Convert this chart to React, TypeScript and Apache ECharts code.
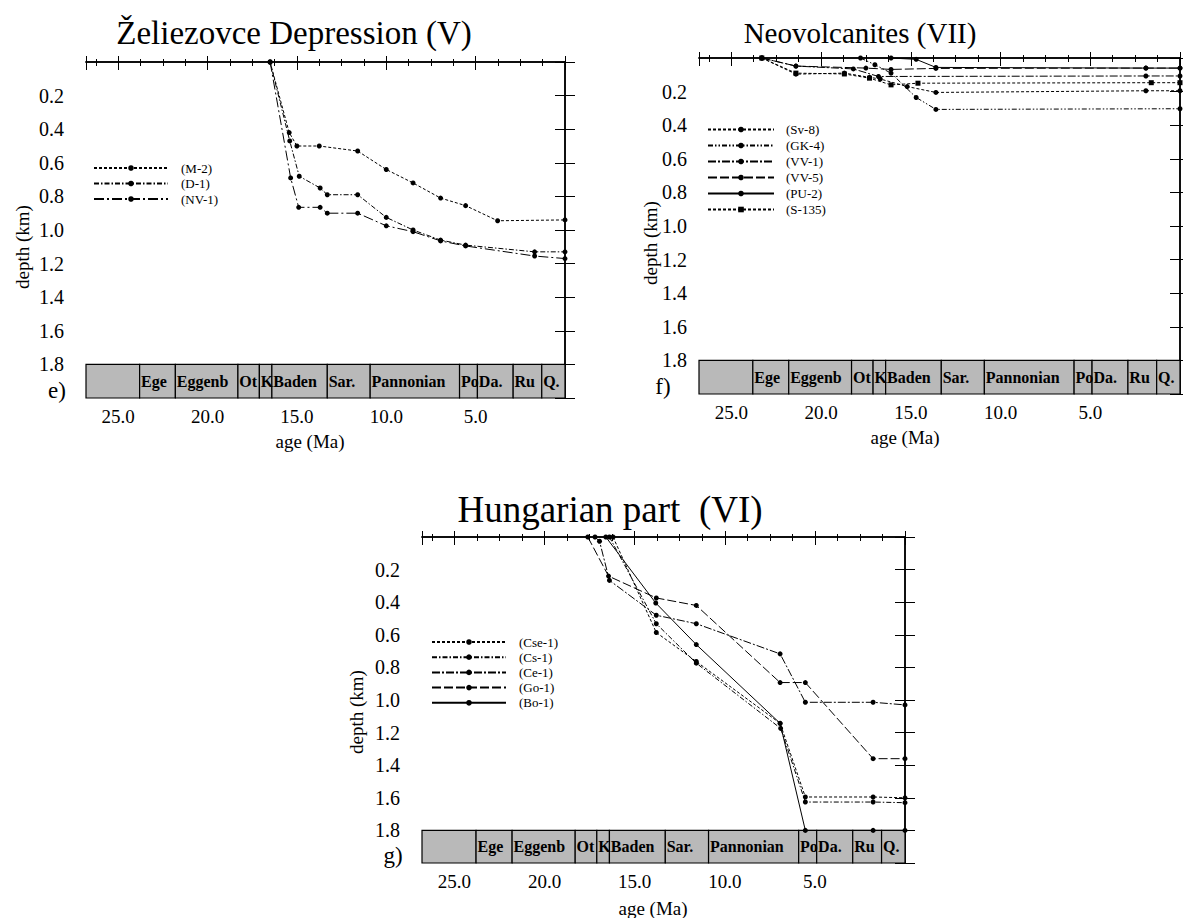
import React, { useEffect, useRef } from "react";
import * as echarts from "echarts";

const FONT = "'Liberation Serif', 'Times New Roman', serif";

// ---- stratigraphic strip (ages in Ma) ----
const stageNames = ["", "Ege", "Eggenb", "Ot", "K", "Baden", "Sar.", "Pannonian", "Po", "Da.", "Ru", "Q."];
const stageStart = [26.8, 23.8, 21.8, 18.3, 17.1, 16.4, 13.3, 10.9, 5.9, 4.9, 2.9, 1.3];
const stageEnd = [23.8, 21.8, 18.3, 17.1, 16.4, 13.3, 10.9, 5.9, 4.9, 2.9, 1.3, 0];

const AGE_MAX = 26.8;
const DEPTH_MAX = 2.0;
const STRIP_TOP = 1.8;

// ---- e) Zeliezovce Depression (V) ----
const namesE = ["(M-2)", "(D-1)", "(NV-1)"];
const ageM2 = [16.5, 15.43, 15.0, 13.75, 11.6, 10.0, 8.5, 6.96, 5.56, 3.77, 0];
const depthM2 = [0, 0.42, 0.5, 0.5, 0.53, 0.64, 0.72, 0.81, 0.855, 0.945, 0.94];
const ageD1 = [16.5, 15.4, 14.87, 13.7, 13.3, 11.6, 10.0, 8.5, 6.96, 5.56, 1.7, 0];
const depthD1 = [0, 0.47, 0.68, 0.75, 0.79, 0.79, 0.925, 1.0, 1.06, 1.09, 1.13, 1.13];
const ageNV1 = [16.5, 15.35, 14.9, 13.7, 13.3, 11.6, 10.0, 8.5, 6.96, 5.56, 1.7, 0];
const depthNV1 = [0, 0.69, 0.865, 0.865, 0.9, 0.9, 0.975, 1.01, 1.065, 1.095, 1.155, 1.17];

// ---- f) Neovolcanites (VII) ----
const namesF = ["(Sv-8)", "(GK-4)", "(VV-1)", "(VV-5)", "(PU-2)", "(S-135)"];
const ageSv8 = [23.3, 21.4, 18.7, 17.3, 16.7, 15.2, 13.6, 1.9, 0];
const depthSv8 = [0, 0.096, 0.09, 0.115, 0.125, 0.17, 0.205, 0.195, 0.195];
const ageGK4 = [17.8, 17.0, 16.1, 14.7, 13.6, 0];
const depthGK4 = [0, 0.04, 0.09, 0.235, 0.306, 0.302];
const ageVV1 = [23.3, 21.4, 18.2, 16.8, 1.9, 0];
const depthVV1 = [0, 0.048, 0.065, 0.11, 0.107, 0.107];
const ageVV5 = [23.3, 21.4, 17.5, 16.1, 13.6, 1.9, 0];
const depthVV5 = [0, 0.048, 0.06, 0.068, 0.062, 0.06, 0.06];
const agePU2 = [16.1, 14.7, 13.6, 1.9, 0];
const depthPU2 = [0, 0.008, 0.056, 0.06, 0.06];
const ageS135 = [23.3, 21.4, 18.7, 17.3, 16.1, 14.6, 1.6, 0];
const depthS135 = [0, 0.09, 0.095, 0.12, 0.16, 0.15, 0.147, 0.147];

// ---- g) Hungarian part (VI) ----
const namesG = ["(Cse-1)", "(Cs-1)", "(Ce-1)", "(Go-1)", "(Bo-1)"];
const ageCse1 = [16.2, 13.8, 11.58, 6.93, 5.53, 1.77, 0];
const depthCse1 = [0, 0.586, 0.764, 1.143, 1.595, 1.595, 1.6];
const ageCs1 = [16.4, 13.8, 11.58, 6.9, 5.53, 1.77, 0];
const depthCs1 = [0, 0.532, 0.774, 1.174, 1.626, 1.626, 1.63];
const ageCe1 = [17.2, 16.95, 16.4, 13.8, 11.58, 6.93, 5.53, 1.77, 0];
const depthCe1 = [0, 0.026, 0.266, 0.48, 0.532, 0.717, 1.014, 1.014, 1.03];
const ageGo1 = [17.6, 16.45, 13.8, 11.58, 6.93, 5.53, 1.77, 0];
const depthGo1 = [0, 0.24, 0.374, 0.42, 0.893, 0.893, 1.36, 1.36];
const ageBo1 = [16.6, 13.83, 11.58, 6.93, 5.53, 1.77, 0];
const depthBo1 = [0, 0.405, 0.66, 1.143, 1.8, 1.8, 1.8];

type Well = { name: string; ages: number[]; depths: number[]; dash: any; symbol?: string };

const wellsE: Well[] = [
  { name: namesE[0], ages: ageM2, depths: depthM2, dash: [3, 2] },
  { name: namesE[1], ages: ageD1, depths: depthD1, dash: [5, 2, 1.5, 2] },
  { name: namesE[2], ages: ageNV1, depths: depthNV1, dash: [10, 3, 2, 3] },
];
const wellsF: Well[] = [
  { name: namesF[0], ages: ageSv8, depths: depthSv8, dash: [3, 2] },
  { name: namesF[1], ages: ageGK4, depths: depthGK4, dash: [5, 2, 1.5, 2, 1.5, 2] },
  { name: namesF[2], ages: ageVV1, depths: depthVV1, dash: [8, 2, 2, 2] },
  { name: namesF[3], ages: ageVV5, depths: depthVV5, dash: [9, 3] },
  { name: namesF[4], ages: agePU2, depths: depthPU2, dash: "solid" },
  { name: namesF[5], ages: ageS135, depths: depthS135, dash: [3, 2], symbol: "rect" },
];
const wellsG: Well[] = [
  { name: namesG[0], ages: ageCse1, depths: depthCse1, dash: [3, 2] },
  { name: namesG[1], ages: ageCs1, depths: depthCs1, dash: [5, 2, 1.5, 2] },
  { name: namesG[2], ages: ageCe1, depths: depthCe1, dash: [8, 2, 2, 2] },
  { name: namesG[3], ages: ageGo1, depths: depthGo1, dash: [9, 3] },
  { name: namesG[4], ages: ageBo1, depths: depthBo1, dash: "solid" },
];

type Panel = {
  left: number; top: number; width: number; height: number;
  wells: Well[]; yLabelMargin: number;
  legendLeft: number; legendTop: number; legendGap: number; legendWidth: number; legendPad: number;
};

const panels: Panel[] = [
  { left: 86, top: 62, width: 479, height: 336, wells: wellsE, yLabelMargin: 22,
    legendLeft: 93, legendTop: 161.5, legendGap: 2.5, legendWidth: 74, legendPad: 8 },
  { left: 699, top: 58, width: 491, height: 336, wells: wellsF, yLabelMargin: 12,
    legendLeft: 707, legendTop: 123, legendGap: 3, legendWidth: 66, legendPad: 7 },
  { left: 422, top: 537, width: 483, height: 326, wells: wellsG, yLabelMargin: 22,
    legendLeft: 431, legendTop: 635.5, legendGap: 2.2, legendWidth: 74, legendPad: 8 },
];

function buildOption() {
  const grid: any[] = [];
  const xAxis: any[] = [];
  const yAxis: any[] = [];
  const series: any[] = [];
  const legend: any[] = [];
  const black = "#000";

  panels.forEach((p, k) => {
    grid.push({ left: p.left, top: p.top, width: p.width, height: p.height, containLabel: false });
    const xBase = {
      gridIndex: k, type: "value", min: 0, max: AGE_MAX, inverse: true,
      splitLine: { show: false },
      axisLine: { show: true, lineStyle: { color: black, width: 1.5 } },
    };
    xAxis.push({
      ...xBase, position: "bottom", interval: 5,
      axisTick: { show: true, inside: true, length: 6, lineStyle: { color: black } },
      axisLabel: {
        show: true, margin: 9, fontSize: 19, color: black, fontFamily: FONT,
        formatter: (v: number) => (v < 1 || v > 26 ? "" : v.toFixed(1)),
      },
    });
    xAxis.push({
      ...xBase, position: "bottom", interval: 1.25,
      axisLine: { show: false },
      axisTick: { show: true, inside: true, length: 3, lineStyle: { color: black } },
      axisLabel: { show: false },
    });
    xAxis.push({
      ...xBase, position: "top", interval: 5,
      axisTick: { show: true, inside: true, length: 8, lineStyle: { color: black } },
      axisLabel: { show: false },
    });
    xAxis.push({
      ...xBase, position: "top", interval: 1.25,
      axisLine: { show: false },
      axisTick: { show: true, inside: true, length: 4, lineStyle: { color: black } },
      axisLabel: { show: false },
    });
    const yBase = {
      gridIndex: k, type: "value", min: 0, max: DEPTH_MAX, interval: 0.2, inverse: true,
      splitLine: { show: false },
      axisLine: { show: true, lineStyle: { color: black, width: 1.5 } },
      axisTick: { show: true, inside: true, length: 10, lineStyle: { color: black } },
    };
    yAxis.push({
      ...yBase, position: "left",
      axisLabel: {
        show: true, margin: p.yLabelMargin, fontSize: 20, color: black, fontFamily: FONT,
        formatter: (v: number) => (v < 0.1 || v > 1.9 ? "" : v.toFixed(1)),
      },
    });
    yAxis.push({ ...yBase, position: "right", axisLabel: { show: false } });

    const xi = k * 4;
    const yi = k * 2;
    series.push({
      type: "line", name: "strip" + k, xAxisIndex: xi, yAxisIndex: yi, data: [], z: 1,
      markArea: {
        silent: true,
        itemStyle: { color: "#b9b9b9", borderColor: black, borderWidth: 1.2 },
        label: {
          show: true, position: "insideLeft", distance: 2, color: black,
          fontFamily: FONT, fontSize: 16, fontWeight: "bold",
        },
        data: stageNames.map((n, i) => [
          { name: n, xAxis: stageStart[i], yAxis: STRIP_TOP },
          { xAxis: stageEnd[i], yAxis: DEPTH_MAX },
        ]),
      },
    });
    p.wells.forEach((w) => {
      series.push({
        type: "line", name: w.name, xAxisIndex: xi, yAxisIndex: yi, z: 3,
        data: w.ages.map((a, i) => [a, w.depths[i]]),
        symbol: w.symbol || "circle", symbolSize: 5,
        itemStyle: { color: black },
        lineStyle: { color: black, width: 1, type: w.dash },
      });
    });
    legend.push({
      orient: "vertical", left: p.legendLeft, top: p.legendTop, padding: 0,
      itemWidth: p.legendWidth, itemHeight: 7, itemGap: p.legendGap,
      selectedMode: false,
      data: p.wells.map((w) => w.name),
      textStyle: { fontFamily: FONT, fontSize: 13, color: black, padding: [0, 0, 0, p.legendPad] },
    });
  });

  const txt = (text: string, x: number, y: number, size: number, extra: any = {}) => ({
    type: "text", x, y, silent: true, ...extra,
    style: {
      text, fill: "#000", fontFamily: FONT, fontSize: size,
      textAlign: "center", textVerticalAlign: "middle",
    },
  });

  const graphic: any[] = [
    txt("Želiezovce Depression (V)", 294, 33, 33),
    txt("Neovolcanites (VII)", 860, 33, 29),
    txt("Hungarian part  (VI)", 610, 509, 37),
    txt("depth (km)", 22, 247, 19, { rotation: Math.PI / 2 }),
    txt("depth (km)", 650, 243, 19, { rotation: Math.PI / 2 }),
    txt("depth (km)", 356, 712, 19, { rotation: Math.PI / 2 }),
    txt("age (Ma)", 310, 441, 19),
    txt("age (Ma)", 905, 437, 19),
    txt("age (Ma)", 653, 908, 19),
    txt("e)", 57, 390, 23),
    txt("f)", 663, 386, 23),
    txt("g)", 393, 855, 23),
  ];

  return {
    animation: false,
    backgroundColor: "#fff",
    textStyle: { fontFamily: FONT },
    grid, xAxis, yAxis, series, legend, graphic,
  };
}

export default function App() {
  const ref = useRef<HTMLDivElement>(null);
  useEffect(() => {
    if (!ref.current) return;
    const chart = echarts.init(ref.current, undefined, { renderer: "svg" });
    chart.setOption(buildOption() as any);
    return () => chart.dispose();
  }, []);
  return (
    <div
      ref={ref}
      style={{ position: "fixed", left: 0, top: 0, width: 1183, height: 918, background: "#fff" }}
    />
  );
}
